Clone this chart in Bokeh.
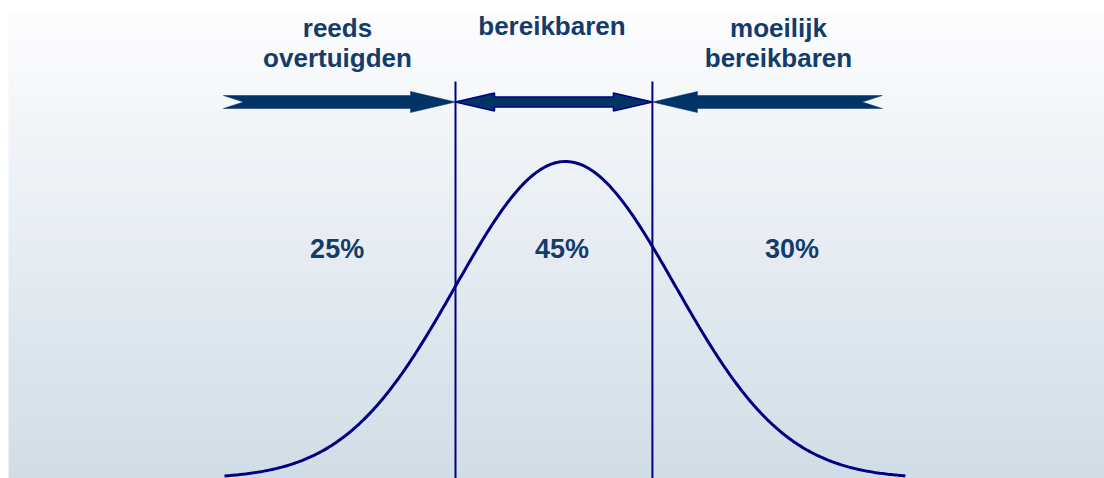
import numpy as np
from bokeh.plotting import figure
from bokeh.embed import file_html
from bokeh.resources import INLINE
from bokeh.core.properties import value

# ---------------- data ----------------
region_labels = ["reeds\novertuigden", "bereikbaren", "moeilijk\nbereikbaren"]
region_shares = [25, 45, 30]            # percent
share_text = [f"{s}%" for s in region_shares]
mu, sigma = 0.0, 1.0                    # bell curve (normal distribution)
boundaries = [-1.0, 0.79]               # segment borders (in sigma units)
arrow_tails = [-3.11, 2.88]             # outer ends of the outer arrows
curve_extent = [-3.1, 3.09]
label_x = [-2.073, -0.123, 1.936]
label_top_y = [0.5664, 0.5689, 0.5664]
share_x = [-2.076, -0.031, 2.06]
share_y = 0.2882
arrow_y = 0.4738
divider_top = 0.4996

# ---------------- layout / style ----------------
MARGIN = 8
FW, FH = 1096, 470          # frame size
PX_X = 110.0      # px per x unit
PX_Y = 794.6      # px per y unit
x0 = (8 - 565) / PX_X
x1 = x0 + FW / PX_X
y0, y1 = 0.0, FH / PX_Y

TEXT_COL = "#133c6b"
ARROW_FILL = "#003366"
LINE_COL = "#000080"

p = figure(width=FW + MARGIN, height=FH + MARGIN, x_range=(x0, x1), y_range=(y0, y1),
           output_backend="svg", toolbar_location=None,
           x_axis_location=None, y_axis_location=None, min_border=0)
p.min_border_left = MARGIN
p.min_border_top = MARGIN
p.min_border_right = 0
p.min_border_bottom = 0
p.grid.visible = False
p.outline_line_color = None
p.border_fill_color = "white"
p.background_fill_color = "white"

# gradient background (white at top -> light blue-grey at bottom)
n = 94
edges = np.linspace(y1, y0, n + 1)
top_c = np.array([253, 253, 254])
bot_c = np.array([208, 220, 230])
cols = []
for i in range(n):
    t = (i + 0.5) / n
    c = (top_c * (1 - t) + bot_c * t).round().astype(int)
    cols.append("#%02x%02x%02x" % tuple(c))
p.quad(left=x0, right=x1, top=edges[:-1], bottom=edges[1:], fill_color=cols,
       line_color=cols, line_width=0.5)

# bell curve
xs = np.linspace(curve_extent[0], curve_extent[1], 400)
ys = np.exp(-0.5 * ((xs - mu) / sigma) ** 2) / (sigma * np.sqrt(2 * np.pi))
p.line(xs, ys, line_color=LINE_COL, line_width=3)

# divider lines
for b in boundaries:
    p.segment(x0=b, y0=y0 - 0.01, x1=b, y1=divider_top, line_color=LINE_COL, line_width=2)

# arrows
sh = 6.5 / PX_Y       # shaft half height
hh = 10.5 / PX_Y      # head half height
hl = 45 / PX_X        # head length
nd = 20 / PX_X        # tail notch depth

def single_arrow(tail, tip):
    d = 1 if tip > tail else -1
    base = tip - d * hl
    xs_ = [tail, tail + d * nd, tail, base, base, tip, base, base]
    ys_ = [arrow_y + sh, arrow_y, arrow_y - sh, arrow_y - sh, arrow_y - hh,
           arrow_y, arrow_y + hh, arrow_y + sh]
    return xs_, ys_

lx, ly = single_arrow(arrow_tails[0], boundaries[0])
rx, ry = single_arrow(arrow_tails[1], boundaries[1])
p.patches([lx, rx], [ly, ry], fill_color=ARROW_FILL, line_color=ARROW_FILL, line_width=0.5)

msh = 5 / PX_Y
mhh = 9 / PX_Y
mhl = 39 / PX_X
a, b = boundaries
mx = [a, a + mhl, a + mhl, b - mhl, b - mhl, b, b - mhl, b - mhl, a + mhl, a + mhl]
my = [arrow_y, arrow_y + mhh, arrow_y + msh, arrow_y + msh, arrow_y + mhh, arrow_y,
      arrow_y - mhh, arrow_y - msh, arrow_y - msh, arrow_y - mhh]
p.patch(mx, my, fill_color=ARROW_FILL, line_color=LINE_COL, line_width=1.5)

# labels
line_gap = 30 / PX_Y
tx, ty, tt = [], [], []
for lab, x, yt in zip(region_labels, label_x, label_top_y):
    for k, part in enumerate(lab.split("\n")):
        tx.append(x)
        ty.append(yt - k * line_gap)
        tt.append(part)
p.text(x=tx, y=ty, text=tt, text_font=value("Liberation Sans"), text_font_style="bold",
       text_font_size="26px", text_color=TEXT_COL, text_align="center",
       text_baseline="alphabetic")

p.text(x=share_x, y=[share_y] * 3, text=share_text, text_font=value("Liberation Sans"),
       text_font_style="bold", text_font_size="27px", text_color=TEXT_COL,
       text_align="center", text_baseline="alphabetic")

open("out.html", "w").write(file_html(p, INLINE))
